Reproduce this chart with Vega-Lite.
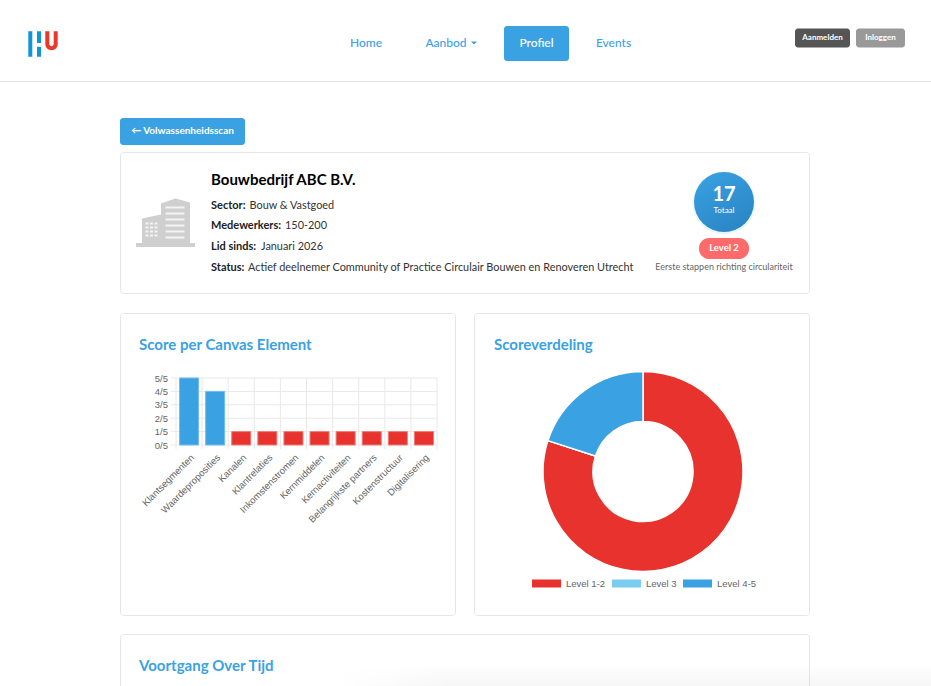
{
  "$schema": "https://vega.github.io/schema/vega-lite/v6.json",
  "width": 931,
  "height": 686,
  "padding": 0,
  "autosize": {"type": "none"},
  "background": "white",
  "config": {"view": {"stroke": null}, "text": {"font": "Lato", "baseline": "middle"}},
  "resolve": {"scale": {"x": "independent", "y": "independent", "color": "independent", "stroke": "independent", "theta": "independent"}},
  "layer": [
    {"data": {"values": [{"vlak": "kop"}]}, "mark": {"type": "rect", "fill": "#e3e3e3"},
      "encoding": {"x": {"field": "vlak", "type": "nominal", "axis": null, "scale": {"type": "band", "range": [0, 931]}}, "y": {"field": "vlak", "type": "nominal", "axis": null, "scale": {"type": "band", "range": [81, 82]}}}},
    {"data": {"values": [{"vlak": "logo"}]}, "mark": {"type": "point", "filled": true, "opacity": 1, "size": 4, "fill": "#0e96d8", "shape": "M-14.7,-12.7H-10.7V12.7H-14.7ZM-6,-12.7H-2V-1H-6ZM-6,2.7H-2V12.7H-6Z"},
      "encoding": {"x": {"field": "vlak", "type": "nominal", "axis": null, "scale": {"type": "point", "range": [43, 43]}}, "y": {"field": "vlak", "type": "nominal", "axis": null, "scale": {"type": "point", "range": [44, 44]}}}},
    {"data": {"values": [{"vlak": "logo"}]}, "mark": {"type": "point", "filled": true, "opacity": 1, "size": 4, "fill": "#e8392a", "shape": "M2.3,-12.7H6.3V0A2.2,2.2 0 0 0 10.7,0V-12.7H14.7V0A6.2,6.2 0 0 1 2.3,0Z"},
      "encoding": {"x": {"field": "vlak", "type": "nominal", "axis": null, "scale": {"type": "point", "range": [43, 43]}}, "y": {"field": "vlak", "type": "nominal", "axis": null, "scale": {"type": "point", "range": [44, 44]}}}},
    {"data": {"values": [{"tekst": "Home"}]}, "mark": {"type": "text", "fontSize": 12, "fontWeight": 500, "color": "#3aa2e3"},
      "encoding": {"text": {"field": "tekst"}, "x": {"field": "tekst", "type": "nominal", "axis": null, "scale": {"type": "point", "range": [366, 366]}}, "y": {"field": "tekst", "type": "nominal", "axis": null, "scale": {"type": "point", "range": [43, 43]}}}},
    {"data": {"values": [{"tekst": "Aanbod"}]}, "mark": {"type": "text", "fontSize": 12, "fontWeight": 500, "color": "#3aa2e3"},
      "encoding": {"text": {"field": "tekst"}, "x": {"field": "tekst", "type": "nominal", "axis": null, "scale": {"type": "point", "range": [446, 446]}}, "y": {"field": "tekst", "type": "nominal", "axis": null, "scale": {"type": "point", "range": [43, 43]}}}},
    {"data": {"values": [{"tekst": "caret"}]}, "mark": {"type": "point", "filled": true, "opacity": 1, "size": 4, "fill": "#3aa2e3", "shape": "M-3,-1.5H3L0,1.5Z"},
      "encoding": {"x": {"field": "tekst", "type": "nominal", "axis": null, "scale": {"type": "point", "range": [474, 474]}}, "y": {"field": "tekst", "type": "nominal", "axis": null, "scale": {"type": "point", "range": [43, 43]}}}},
    {"data": {"values": [{"vlak": "Profiel"}]}, "mark": {"type": "rect", "fill": "#3aa2e3", "cornerRadius": 3},
      "encoding": {"x": {"field": "vlak", "type": "nominal", "axis": null, "scale": {"type": "band", "range": [504, 569]}}, "y": {"field": "vlak", "type": "nominal", "axis": null, "scale": {"type": "band", "range": [26, 61]}}}},
    {"data": {"values": [{"tekst": "Profiel"}]}, "mark": {"type": "text", "fontSize": 12, "fontWeight": 500, "color": "white"},
      "encoding": {"text": {"field": "tekst"}, "x": {"field": "tekst", "type": "nominal", "axis": null, "scale": {"type": "point", "range": [536.5, 536.5]}}, "y": {"field": "tekst", "type": "nominal", "axis": null, "scale": {"type": "point", "range": [43, 43]}}}},
    {"data": {"values": [{"tekst": "Events"}]}, "mark": {"type": "text", "fontSize": 12, "fontWeight": 500, "color": "#3aa2e3"},
      "encoding": {"text": {"field": "tekst"}, "x": {"field": "tekst", "type": "nominal", "axis": null, "scale": {"type": "point", "range": [613.5, 613.5]}}, "y": {"field": "tekst", "type": "nominal", "axis": null, "scale": {"type": "point", "range": [43, 43]}}}},
    {"data": {"values": [{"vlak": "Aanmelden"}]}, "mark": {"type": "rect", "fill": "#555555", "cornerRadius": 3},
      "encoding": {"x": {"field": "vlak", "type": "nominal", "axis": null, "scale": {"type": "band", "range": [795, 850]}}, "y": {"field": "vlak", "type": "nominal", "axis": null, "scale": {"type": "band", "range": [28.5, 47.5]}}}},
    {"data": {"values": [{"tekst": "Aanmelden"}]}, "mark": {"type": "text", "fontSize": 8, "fontWeight": "bold", "color": "white"},
      "encoding": {"text": {"field": "tekst"}, "x": {"field": "tekst", "type": "nominal", "axis": null, "scale": {"type": "point", "range": [822.5, 822.5]}}, "y": {"field": "tekst", "type": "nominal", "axis": null, "scale": {"type": "point", "range": [38, 38]}}}},
    {"data": {"values": [{"vlak": "Inloggen"}]}, "mark": {"type": "rect", "fill": "#999999", "cornerRadius": 3},
      "encoding": {"x": {"field": "vlak", "type": "nominal", "axis": null, "scale": {"type": "band", "range": [856, 905]}}, "y": {"field": "vlak", "type": "nominal", "axis": null, "scale": {"type": "band", "range": [28.5, 47.5]}}}},
    {"data": {"values": [{"tekst": "Inloggen"}]}, "mark": {"type": "text", "fontSize": 8, "fontWeight": "bold", "color": "white"},
      "encoding": {"text": {"field": "tekst"}, "x": {"field": "tekst", "type": "nominal", "axis": null, "scale": {"type": "point", "range": [880.5, 880.5]}}, "y": {"field": "tekst", "type": "nominal", "axis": null, "scale": {"type": "point", "range": [38, 38]}}}},
    {"data": {"values": [{"vlak": "terug"}]}, "mark": {"type": "rect", "fill": "#3aa2e3", "cornerRadius": 3},
      "encoding": {"x": {"field": "vlak", "type": "nominal", "axis": null, "scale": {"type": "band", "range": [120, 245]}}, "y": {"field": "vlak", "type": "nominal", "axis": null, "scale": {"type": "band", "range": [118, 145]}}}},
    {"data": {"values": [{"tekst": "← Volwassenheidsscan"}]}, "mark": {"type": "text", "fontSize": 10, "fontWeight": "bold", "color": "white"},
      "encoding": {"text": {"field": "tekst"}, "x": {"field": "tekst", "type": "nominal", "axis": null, "scale": {"type": "point", "range": [182.5, 182.5]}}, "y": {"field": "tekst", "type": "nominal", "axis": null, "scale": {"type": "point", "range": [131, 131]}}}},
    {"data": {"values": [{"vlak": "profiel"}]}, "mark": {"type": "rect", "fill": "white", "stroke": "#e6e6e6", "cornerRadius": 3},
      "encoding": {"x": {"field": "vlak", "type": "nominal", "axis": null, "scale": {"type": "band", "range": [120.5, 809.5]}}, "y": {"field": "vlak", "type": "nominal", "axis": null, "scale": {"type": "band", "range": [152.5, 293.5]}}}},
    {"data": {"values": [{"vlak": "gebouw"}]}, "mark": {"type": "point", "filled": true, "opacity": 1, "size": 4, "fill": "#cfcfcf", "shape": "M-29.5,20.5H29.5V24.5H-29.5ZM-4.5,-19L10,-24L24.5,-20V20.5H-4.5ZM-23.5,-4L-4.5,-8V20.5H-23.5Z"},
      "encoding": {"x": {"field": "vlak", "type": "nominal", "axis": null, "scale": {"type": "point", "range": [165.5, 165.5]}}, "y": {"field": "vlak", "type": "nominal", "axis": null, "scale": {"type": "point", "range": [222.5, 222.5]}}}},
    {"data": {"values": [{"vlak": "ramen"}]}, "mark": {"type": "point", "filled": true, "opacity": 1, "size": 4, "fill": "#f4f4f4", "shape": "M0,-16H19V-14H0ZM0,-10H19V-8H0ZM0,-4H19V-2H0ZM0,2H19V4H0ZM0,8H19V10H0ZM0,14H19V16H0ZM-20,0H-17V2H-20ZM-15.5,0H-12.5V2H-15.5ZM-11,0H-8V2H-11ZM-20,4H-17V6H-20ZM-15.5,4H-12.5V6H-15.5ZM-11,4H-8V6H-11ZM-20,8H-17V10H-20ZM-15.5,8H-12.5V10H-15.5ZM-11,8H-8V10H-11ZM-20,12H-17V14H-20ZM-15.5,12H-12.5V14H-15.5ZM-11,12H-8V14H-11Z"},
      "encoding": {"x": {"field": "vlak", "type": "nominal", "axis": null, "scale": {"type": "point", "range": [165.5, 165.5]}}, "y": {"field": "vlak", "type": "nominal", "axis": null, "scale": {"type": "point", "range": [222.5, 222.5]}}}},
    {"data": {"values": [{"tekst": "Bouwbedrijf ABC B.V."}]}, "mark": {"type": "text", "fontSize": 15, "fontWeight": "bold", "color": "#000000", "align": "left"},
      "encoding": {"text": {"field": "tekst"}, "x": {"field": "tekst", "type": "nominal", "axis": null, "scale": {"type": "point", "range": [211, 211]}}, "y": {"field": "tekst", "type": "nominal", "axis": null, "scale": {"type": "point", "range": [179.5, 179.5]}}}},
    {"data": {"values": [{"kolom": "label", "tekst": "Sector:"}, {"kolom": "label", "tekst": "Medewerkers:"}, {"kolom": "label", "tekst": "Lid sinds:"}, {"kolom": "label", "tekst": "Status:"}]}, "mark": {"type": "text", "fontSize": 11, "fontWeight": "bold", "color": "#222222", "align": "left"},
      "encoding": {"text": {"field": "tekst"}, "x": {"field": "kolom", "type": "nominal", "axis": null, "scale": {"type": "point", "range": [211, 211]}}, "y": {"field": "tekst", "type": "nominal", "axis": null, "sort": null, "scale": {"type": "point", "padding": 0, "range": [205.5, 267.5]}}}},
    {"data": {"values": [{"tekst": "Bouw & Vastgoed"}]}, "mark": {"type": "text", "fontSize": 10.9, "color": "#333333", "align": "left"},
      "encoding": {"text": {"field": "tekst"}, "x": {"field": "tekst", "type": "nominal", "axis": null, "scale": {"type": "point", "range": [249.5, 249.5]}}, "y": {"field": "tekst", "type": "nominal", "axis": null, "scale": {"type": "point", "range": [205.5, 205.5]}}}},
    {"data": {"values": [{"tekst": "150-200"}]}, "mark": {"type": "text", "fontSize": 10.9, "color": "#333333", "align": "left"},
      "encoding": {"text": {"field": "tekst"}, "x": {"field": "tekst", "type": "nominal", "axis": null, "scale": {"type": "point", "range": [285, 285]}}, "y": {"field": "tekst", "type": "nominal", "axis": null, "scale": {"type": "point", "range": [226, 226]}}}},
    {"data": {"values": [{"tekst": "Januari 2026"}]}, "mark": {"type": "text", "fontSize": 10.9, "color": "#333333", "align": "left"},
      "encoding": {"text": {"field": "tekst"}, "x": {"field": "tekst", "type": "nominal", "axis": null, "scale": {"type": "point", "range": [261, 261]}}, "y": {"field": "tekst", "type": "nominal", "axis": null, "scale": {"type": "point", "range": [246.5, 246.5]}}}},
    {"data": {"values": [{"tekst": "Actief deelnemer Community of Practice Circulair Bouwen en Renoveren Utrecht"}]}, "mark": {"type": "text", "fontSize": 10.9, "color": "#333333", "align": "left", "limit": 0},
      "encoding": {"text": {"field": "tekst"}, "x": {"field": "tekst", "type": "nominal", "axis": null, "scale": {"type": "point", "range": [248, 248]}}, "y": {"field": "tekst", "type": "nominal", "axis": null, "scale": {"type": "point", "range": [267.5, 267.5]}}}},
    {"data": {"values": [{"vlak": "ring"}]}, "mark": {"type": "point", "shape": "circle", "filled": true, "opacity": 0.1, "size": 3969, "fill": "#3aa2e3"},
      "encoding": {"x": {"field": "vlak", "type": "nominal", "axis": null, "scale": {"type": "point", "range": [724, 724]}}, "y": {"field": "vlak", "type": "nominal", "axis": null, "scale": {"type": "point", "range": [203, 203]}}}},
    {"data": {"values": [{"vlak": "totaal"}]}, "mark": {"type": "point", "shape": "circle", "filled": true, "opacity": 1, "size": 3600, "fill": {"gradient": "linear", "x1": 0.2, "y1": 0, "x2": 0.8, "y2": 1, "stops": [{"offset": 0, "color": "#38a0e0"}, {"offset": 1, "color": "#2a85c4"}]}},
      "encoding": {"x": {"field": "vlak", "type": "nominal", "axis": null, "scale": {"type": "point", "range": [724, 724]}}, "y": {"field": "vlak", "type": "nominal", "axis": null, "scale": {"type": "point", "range": [202, 202]}}}},
    {"data": {"values": [{"tekst": "17"}]}, "mark": {"type": "text", "fontSize": 20, "fontWeight": "bold", "color": "white"},
      "encoding": {"text": {"field": "tekst"}, "x": {"field": "tekst", "type": "nominal", "axis": null, "scale": {"type": "point", "range": [724, 724]}}, "y": {"field": "tekst", "type": "nominal", "axis": null, "scale": {"type": "point", "range": [194.5, 194.5]}}}},
    {"data": {"values": [{"tekst": "Totaal"}]}, "mark": {"type": "text", "fontSize": 8, "color": "white"},
      "encoding": {"text": {"field": "tekst"}, "x": {"field": "tekst", "type": "nominal", "axis": null, "scale": {"type": "point", "range": [724, 724]}}, "y": {"field": "tekst", "type": "nominal", "axis": null, "scale": {"type": "point", "range": [211, 211]}}}},
    {"data": {"values": [{"vlak": "niveau"}]}, "mark": {"type": "rect", "fill": "#ff6b6b", "cornerRadius": 10},
      "encoding": {"x": {"field": "vlak", "type": "nominal", "axis": null, "scale": {"type": "band", "range": [699, 749]}}, "y": {"field": "vlak", "type": "nominal", "axis": null, "scale": {"type": "band", "range": [238, 259]}}}},
    {"data": {"values": [{"tekst": "Level 2"}]}, "mark": {"type": "text", "fontSize": 9.5, "fontWeight": "bold", "color": "white"},
      "encoding": {"text": {"field": "tekst"}, "x": {"field": "tekst", "type": "nominal", "axis": null, "scale": {"type": "point", "range": [724, 724]}}, "y": {"field": "tekst", "type": "nominal", "axis": null, "scale": {"type": "point", "range": [248, 248]}}}},
    {"data": {"values": [{"tekst": "Eerste stappen richting circulariteit"}]}, "mark": {"type": "text", "fontSize": 9, "color": "#666666"},
      "encoding": {"text": {"field": "tekst"}, "x": {"field": "tekst", "type": "nominal", "axis": null, "scale": {"type": "point", "range": [724, 724]}}, "y": {"field": "tekst", "type": "nominal", "axis": null, "scale": {"type": "point", "range": [267, 267]}}}},
    {"data": {"values": [{"vlak": "score"}]}, "mark": {"type": "rect", "fill": "white", "stroke": "#e6e6e6", "cornerRadius": 3},
      "encoding": {"x": {"field": "vlak", "type": "nominal", "axis": null, "scale": {"type": "band", "range": [120.5, 455.5]}}, "y": {"field": "vlak", "type": "nominal", "axis": null, "scale": {"type": "band", "range": [313.5, 615.5]}}}},
    {"data": {"values": [{"tekst": "Score per Canvas Element"}]}, "mark": {"type": "text", "fontSize": 15, "fontWeight": "bold", "color": "#3aa2e3", "align": "left"},
      "encoding": {"text": {"field": "tekst"}, "x": {"field": "tekst", "type": "nominal", "axis": null, "scale": {"type": "point", "range": [139, 139]}}, "y": {"field": "tekst", "type": "nominal", "axis": null, "scale": {"type": "point", "range": [344.5, 344.5]}}}},
    {"data": {"values": [{"waarde": 0, "van": 0, "tot": 1}, {"waarde": 1, "van": 0, "tot": 1}, {"waarde": 2, "van": 0, "tot": 1}, {"waarde": 3, "van": 0, "tot": 1}, {"waarde": 4, "van": 0, "tot": 1}, {"waarde": 5, "van": 0, "tot": 1}]}, "mark": {"type": "rule", "color": "#e8e8e8", "strokeWidth": 1},
      "encoding": {"x": {"field": "van", "type": "quantitative", "axis": null, "scale": {"domain": [0, 1], "range": [171, 437]}}, "x2": {"field": "tot"}, "y": {"field": "waarde", "type": "quantitative", "axis": null, "scale": {"domain": [0, 5], "range": [445, 378]}}}},
    {"data": {"values": [{"rand": 0, "van": 0, "tot": 1}, {"rand": 1, "van": 0, "tot": 1}, {"rand": 2, "van": 0, "tot": 1}, {"rand": 3, "van": 0, "tot": 1}, {"rand": 4, "van": 0, "tot": 1}, {"rand": 5, "van": 0, "tot": 1}, {"rand": 6, "van": 0, "tot": 1}, {"rand": 7, "van": 0, "tot": 1}, {"rand": 8, "van": 0, "tot": 1}, {"rand": 9, "van": 0, "tot": 1}, {"rand": 10, "van": 0, "tot": 1}]}, "mark": {"type": "rule", "color": "#e8e8e8", "strokeWidth": 1},
      "encoding": {"x": {"field": "rand", "type": "quantitative", "axis": null, "scale": {"domain": [0, 10], "range": [176, 437]}}, "y": {"field": "van", "type": "quantitative", "axis": null, "scale": {"domain": [0, 1], "range": [449, 378]}}, "y2": {"field": "tot"}}},
    {"data": {"values": [
      {"element": "Klantsegmenten", "score": 5, "niveau": "Level 4-5"},
      {"element": "Waardeproposities", "score": 4, "niveau": "Level 4-5"},
      {"element": "Kanalen", "score": 1, "niveau": "Level 1-2"},
      {"element": "Klantrelaties", "score": 1, "niveau": "Level 1-2"},
      {"element": "Inkomstenstromen", "score": 1, "niveau": "Level 1-2"},
      {"element": "Kernmiddelen", "score": 1, "niveau": "Level 1-2"},
      {"element": "Kernactiviteiten", "score": 1, "niveau": "Level 1-2"},
      {"element": "Belangrijkste partners", "score": 1, "niveau": "Level 1-2"},
      {"element": "Kostenstructuur", "score": 1, "niveau": "Level 1-2"},
      {"element": "Digitalisering", "score": 1, "niveau": "Level 1-2"}
    ]}, "mark": {"type": "bar", "strokeWidth": 1},
      "encoding": {
        "x": {"field": "element", "type": "nominal", "sort": null, "title": null, "scale": {"type": "band", "range": [176, 437], "paddingInner": 0.27, "paddingOuter": 0.135},
          "axis": {"orient": "bottom", "offset": -238, "zindex": 1, "domain": false, "ticks": false, "grid": false, "labelAngle": -45, "labelAlign": "right", "labelBaseline": "top", "labelFont": "Liberation Sans", "labelFontSize": 9.5, "labelColor": "#666666", "labelPadding": 4, "labelOverlap": false, "labelLimit": 0}},
        "y": {"field": "score", "type": "quantitative", "title": null, "scale": {"domain": [0, 5], "range": [445, 378]},
          "axis": {"orient": "left", "offset": -171, "zindex": 1, "domain": false, "ticks": false, "grid": false, "values": [0, 1, 2, 3, 4, 5], "labelExpr": "datum.value + '/5'", "labelFont": "Liberation Sans", "labelFontSize": 9.5, "labelColor": "#666666", "labelPadding": 3.5}},
        "color": {"field": "niveau", "type": "nominal", "legend": null, "scale": {"domain": ["Level 1-2", "Level 4-5"], "range": ["#e8322d", "#3aa2e3"]}},
        "stroke": {"field": "niveau", "type": "nominal", "legend": null, "scale": {"domain": ["Level 1-2", "Level 4-5"], "range": ["#ef7c78", "#72bdec"]}}
      }},
    {"data": {"values": [{"vlak": "verdeling"}]}, "mark": {"type": "rect", "fill": "white", "stroke": "#e6e6e6", "cornerRadius": 3},
      "encoding": {"x": {"field": "vlak", "type": "nominal", "axis": null, "scale": {"type": "band", "range": [474.5, 809.5]}}, "y": {"field": "vlak", "type": "nominal", "axis": null, "scale": {"type": "band", "range": [313.5, 615.5]}}}},
    {"data": {"values": [{"tekst": "Scoreverdeling"}]}, "mark": {"type": "text", "fontSize": 15, "fontWeight": "bold", "color": "#3aa2e3", "align": "left"},
      "encoding": {"text": {"field": "tekst"}, "x": {"field": "tekst", "type": "nominal", "axis": null, "scale": {"type": "point", "range": [494, 494]}}, "y": {"field": "tekst", "type": "nominal", "axis": null, "scale": {"type": "point", "range": [344.5, 344.5]}}}},
    {"data": {"values": [
      {"grafiek": "Scoreverdeling", "niveau": "Level 1-2", "aantal": 8},
      {"grafiek": "Scoreverdeling", "niveau": "Level 3", "aantal": 0},
      {"grafiek": "Scoreverdeling", "niveau": "Level 4-5", "aantal": 2}
    ]}, "mark": {"type": "arc", "radius": 100, "innerRadius": 50, "stroke": "white", "strokeWidth": 1.5},
      "encoding": {
        "x": {"field": "grafiek", "type": "nominal", "axis": null, "scale": {"type": "point", "range": [643, 643]}},
        "y": {"field": "grafiek", "type": "nominal", "axis": null, "scale": {"type": "point", "range": [471.5, 471.5]}},
        "theta": {"field": "aantal", "type": "quantitative", "stack": true},
        "color": {"field": "niveau", "type": "nominal", "title": null, "scale": {"domain": ["Level 1-2", "Level 3", "Level 4-5"], "range": ["#e8322d", "#7accf0", "#3aa2e3"]},
          "legend": {"orient": "none", "legendX": 532, "legendY": 569, "direction": "horizontal", "columns": 3, "symbolType": "M-1,-0.276H1V0.276H-1Z", "symbolSize": 841, "symbolStrokeWidth": 0, "labelFont": "Liberation Sans", "labelFontSize": 9.5, "labelColor": "#666666", "labelOffset": 5, "columnPadding": 6}}
      }},
    {"data": {"values": [{"vlak": "voortgang"}]}, "mark": {"type": "rect", "fill": "white", "stroke": "#e6e6e6", "cornerRadius": 3},
      "encoding": {"x": {"field": "vlak", "type": "nominal", "axis": null, "scale": {"type": "band", "range": [120.5, 809.5]}}, "y": {"field": "vlak", "type": "nominal", "axis": null, "scale": {"type": "band", "range": [634.5, 700]}}}},
    {"data": {"values": [{"tekst": "Voortgang Over Tijd"}]}, "mark": {"type": "text", "fontSize": 15, "fontWeight": "bold", "color": "#3aa2e3", "align": "left"},
      "encoding": {"text": {"field": "tekst"}, "x": {"field": "tekst", "type": "nominal", "axis": null, "scale": {"type": "point", "range": [139, 139]}}, "y": {"field": "tekst", "type": "nominal", "axis": null, "scale": {"type": "point", "range": [665.5, 665.5]}}}},
    {"data": {"values": [{"vlak": "schaduw"}]}, "mark": {"type": "rect", "fill": {"gradient": "linear", "x1": 0, "y1": 0, "x2": 0, "y2": 1, "stops": [{"offset": 0, "color": "rgba(0,0,0,0)"}, {"offset": 1, "color": "rgba(0,0,0,0.035)"}]}},
      "encoding": {"x": {"field": "vlak", "type": "nominal", "axis": null, "scale": {"type": "band", "range": [340, 931]}}, "y": {"field": "vlak", "type": "nominal", "axis": null, "scale": {"type": "band", "range": [664, 686]}}}},
    {"data": {"values": [{"vlak": "vervaging"}]}, "mark": {"type": "rect", "fill": {"gradient": "linear", "x1": 0, "y1": 0, "x2": 1, "y2": 0, "stops": [{"offset": 0, "color": "rgba(255,255,255,1)"}, {"offset": 1, "color": "rgba(255,255,255,0)"}]}},
      "encoding": {"x": {"field": "vlak", "type": "nominal", "axis": null, "scale": {"type": "band", "range": [339, 450]}}, "y": {"field": "vlak", "type": "nominal", "axis": null, "scale": {"type": "band", "range": [664, 686]}}}}
  ]
}
